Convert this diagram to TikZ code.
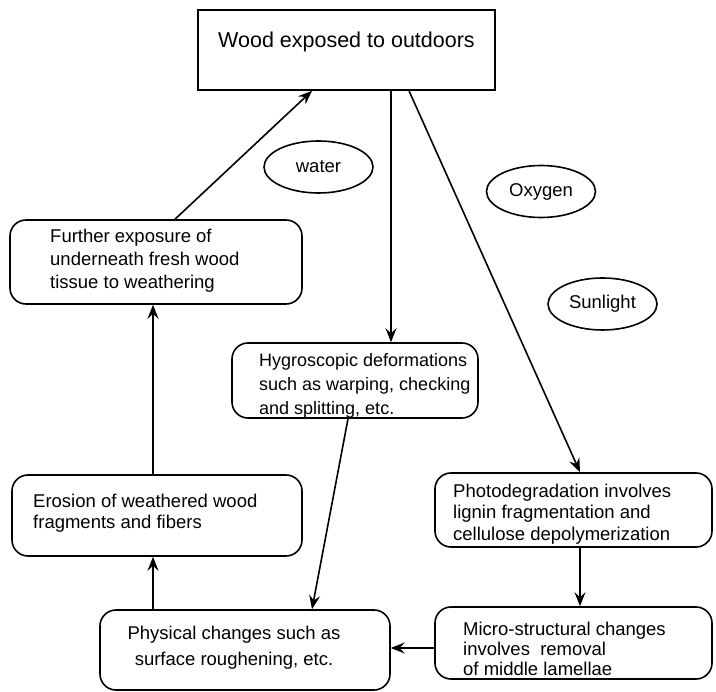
\documentclass[tikz,border=0pt]{standalone}
\usepackage{fontspec}
\setmainfont{Liberation Sans}
\usetikzlibrary{shapes.geometric,arrows.meta}
\begin{document}
\begin{tikzpicture}[x=1pt,y=-1pt,
  box/.style={draw, line width=1.6pt, rounded corners=16pt, inner sep=0pt},
  oval/.style={draw, ellipse, line width=1.6pt, inner sep=0pt, minimum width=109pt, minimum height=52pt, font=\fontsize{18.5}{22}\selectfont},
  lbl/.style={anchor=north west, inner sep=0pt, align=left},
  conn/.style={line width=1.6pt, -{Stealth[length=14pt,width=11pt,inset=5pt]}},
]
\useasboundingbox (0,0) rectangle (716,692);

% boxes
\node[box, sharp corners, minimum width=297pt, minimum height=80pt] (top) at (346.5,50) {};
\node[box, minimum width=292pt, minimum height=84pt] (further) at (156,262) {};
\node[box, minimum width=246pt, minimum height=75pt] (hygro) at (355,380.5) {};
\node[box, minimum width=277pt, minimum height=74pt] (photo) at (573.5,510) {};
\node[box, minimum width=290pt, minimum height=81pt] (erosion) at (157,515.5) {};
\node[box, minimum width=290pt, minimum height=80pt] (physical) at (245,650) {};
\node[box, minimum width=277pt, minimum height=72pt] (micro) at (573.5,643) {};

% labels
\node[anchor=base west, inner sep=0pt, font=\fontsize{21.5}{26}\selectfont] (toplbl) at (218,48) {Wood exposed to outdoors};
\node[lbl, font=\fontsize{18.5}{23}\selectfont] (furtherlbl) at (50,228.5) {Further exposure of\\underneath fresh wood\\tissue to weathering};
\node[lbl, font=\fontsize{18}{24}\selectfont] (hygrolbl) at (259,353) {Hygroscopic deformations\\such as warping, checking\\and splitting, etc.};
\node[lbl, font=\fontsize{18.5}{21.5}\selectfont] (photolbl) at (453,483.5) {Photodegradation involves\\lignin fragmentation and\\cellulose depolymerization};
\node[lbl, font=\fontsize{18.5}{21.5}\selectfont] (erosionlbl) at (33,493.5) {Erosion of weathered wood\\fragments and fibers};
\node[anchor=north, inner sep=0pt, align=center, font=\fontsize{18.5}{26}\selectfont] (physicallbl) at (234,625.5) {Physical changes such as\\surface roughening, etc.};
\node[lbl, font=\fontsize{18.5}{20}\selectfont] (microlbl) at (463,621.5) {Micro-structural changes\\involves\ \ removal\\of middle lamellae};

% ellipses
\node[oval] (water) at (318.5,167) {water};
\node[oval] (oxygen) at (541,191.5) {Oxygen};
\node[oval] (sun) at (602.5,304) {Sunlight};

% connectors
\draw[conn] ([xshift=19pt]further.north) -- ([xshift=-34.5pt]top.south);
\draw[conn] ([xshift=44.5pt]top.south) -- ([xshift=44.5pt]top.south |- hygro.north);
\draw[conn] ([xshift=62.5pt]top.south) -- ([xshift=6.5pt]photo.north);
\draw[conn] ([xshift=-7pt]hygro.south) -- ([xshift=67pt]physical.north);
\draw[conn] ([xshift=6.5pt]photo.south) -- ([xshift=6.5pt]micro.north);
\draw[conn] ([yshift=-5pt]micro.west) -- ([yshift=-5pt]micro.west -| physical.east);
\draw[conn] ([xshift=-92pt]physical.north) -- ([xshift=-92pt]physical.north |- erosion.south);
\draw[conn] ([xshift=-4pt]erosion.north) -- ([xshift=-4pt]erosion.north |- further.south);
\end{tikzpicture}
\end{document}
